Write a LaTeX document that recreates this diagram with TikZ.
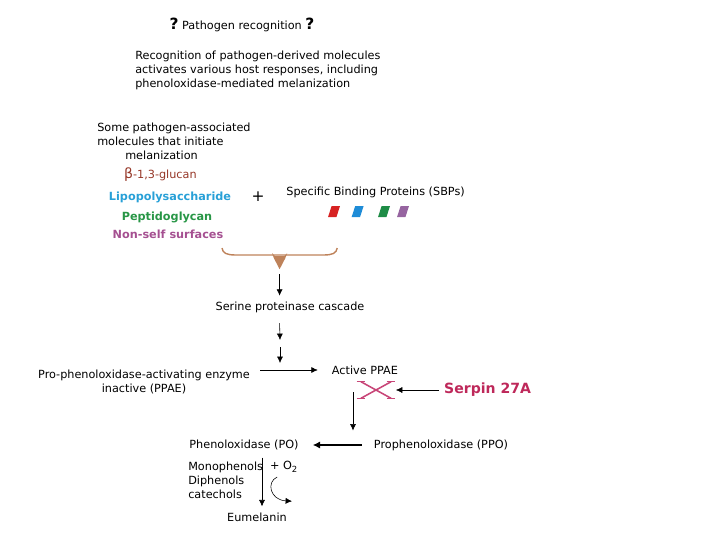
\documentclass[tikz,border=0pt]{standalone}
\usepackage{fontspec}
\setmainfont{DejaVu Sans}
\usepackage{tikz}
\usetikzlibrary{arrows.meta, positioning, calc}

\definecolor{glucancol}{RGB}{150,55,40}
\definecolor{lpscol}{RGB}{40,160,215}
\definecolor{pgcol}{RGB}{40,150,70}
\definecolor{nscol}{RGB}{165,80,145}
\definecolor{sbpred}{RGB}{215,35,35}
\definecolor{sbpblue}{RGB}{30,140,215}
\definecolor{sbpgreen}{RGB}{30,140,70}
\definecolor{sbppurple}{RGB}{150,100,160}
\definecolor{bracecol}{RGB}{190,130,90}
\definecolor{serpincol}{RGB}{190,40,90}
\definecolor{blockcol}{RGB}{200,70,120}

\begin{document}
\begin{tikzpicture}[
    txt/.style={
        inner sep=0pt, align=center,
        font=\fontsize{8}{9.9}\selectfont
    },
    molecule/.style={
        txt, font=\fontsize{8}{9.9}\selectfont\bfseries
    },
    blockmark/.style={
        minimum width=7.4mm, minimum height=4mm, inner sep=0pt
    },
    blockline/.style={blockcol, line width=1.1pt},
    arrow/.style={-{Latex[length=1.6mm, width=1.5mm]}, thin},
    thickarrow/.style={-{Latex[length=1.8mm, width=1.8mm]}, line width=0.9pt}
]
\useasboundingbox (0,0) rectangle (18,-13.5);

% --- Recognition (top) ---
\node[txt] (title) at (6.05, -0.625)
    {{\fontsize{11}{11}\selectfont\bfseries ?}~Pathogen recognition~{\fontsize{11}{11}\selectfont\bfseries ?}};
\node[txt, align=left, anchor=west] (intro) at (3.375, -1.75)
    {Recognition of pathogen-derived molecules\\
    activates various host responses, including\\
    phenoloxidase-mediated melanization};

% --- Pathogen-associated molecules ---
\node[txt, align=left, anchor=west] (assoc) at (2.425, -3.525)
    {Some pathogen-associated\\
    molecules that initiate\\
    \hspace*{7mm}melanization};
\node[txt, text=glucancol] (glucan) at (4.01, -4.375)
    {{\fontsize{10}{10}\selectfont β}-1,3-glucan};
\node[molecule, text=lpscol] (lps) at (4.25, -4.925) {Lipopolysaccharide};
\node[molecule, text=pgcol] (pg) at (4.175, -5.425) {Peptidoglycan};
\node[molecule, text=nscol] (nonself) at (4.2, -5.85) {Non-self surfaces};
\node[txt, font=\fontsize{11}{11}\selectfont] (plus) at (6.45, -4.925) {+};

% --- Specific binding proteins ---
\node[txt] (sbp) at (9.39, -4.8) {Specific Binding Proteins (SBPs)};
\foreach \x/\c in {8.35/sbpred, 8.94/sbpblue, 9.6/sbpgreen, 10.075/sbppurple}
    \fill[\c] (\x-0.15,-5.43) -- (\x+0.06,-5.43) -- (\x+0.15,-5.15) -- (\x-0.06,-5.15) -- cycle;

% --- Brace joining both ---
\coordinate (brace) at (6.99, -6.73);
\draw[bracecol, line width=1pt]
    (5.55,-6.2) .. controls (5.57,-6.33) and (5.66,-6.375) .. (5.9,-6.375)
    -- (8.08,-6.375) .. controls (8.32,-6.375) and (8.41,-6.33) .. (8.43,-6.2);
\fill[bracecol] (6.8,-6.33) -- (6.87,-6.4) -- (7.11,-6.4) -- (7.18,-6.33)
    -- (7.13,-6.46) -- (brace) -- (6.85,-6.46) -- cycle;

% --- Cascade ---
\node[txt] (serine) at (7.25, -7.675) {Serine proteinase cascade};
\coordinate (c1) at (7.0, -8.5);
\coordinate (c2) at (7.0, -8.675);
\coordinate (c3) at (7.0, -9.075);
\draw[arrow] ([yshift=-1.2mm]brace) -- ([yshift=1.4mm]serine.north -| brace);
\draw[arrow] ([yshift=-2.6mm]serine.south -| brace) -- (c1);
\draw[arrow] (c2) -- (c3);

% --- PPAE ---
\node[txt] (ppae) at (3.6, -9.55)
    {Pro-phenoloxidase-activating enzyme\\inactive (PPAE)};
\node[txt] (active) at (9.125, -9.25) {Active PPAE};
\draw[arrow] ([xshift=2.5mm]ppae.east |- active.west) -- ([xshift=-3.5mm]active.west);

% --- Serpin block ---
\node[blockmark] (block) at (9.4, -9.75) {};
\draw[blockline] (block.north west) -- (block.south east);
\draw[blockline] (block.south west) -- (block.north east);
\draw[blockline] ([xshift=-1.1mm]block.north west) -- ([xshift=1.1mm]block.north west);
\draw[blockline] ([xshift=-1.1mm]block.north east) -- ([xshift=1.1mm]block.north east);
\draw[blockline] ([xshift=-1.1mm]block.south west) -- ([xshift=1.1mm]block.south west);
\draw[blockline] ([xshift=-1.1mm]block.south east) -- ([xshift=1.1mm]block.south east);
\node[txt, text=serpincol, font=\fontsize{10}{12}\selectfont\bfseries] (serpin) at (12.19, -9.75) {Serpin 27A};
\draw[arrow] ([xshift=-1.2mm]serpin.west) -- ([xshift=1.2mm]block.east);

% --- Phenoloxidase ---
\node[txt] (po) at (6.1, -11.125) {Phenoloxidase (PO)};
\node[txt] (ppo) at (11.025, -11.125) {Prophenoloxidase (PPO)};
\coordinate (v1) at (8.825, -9.8);
\draw[arrow] (v1) -- ([yshift=2.2mm]v1 |- ppo.north);
\draw[thickarrow] ([xshift=-3mm]ppo.west) -- ([xshift=3.5mm]po.east);

% --- Melanization ---
\node[txt, align=left, anchor=west] (phenols) at (4.7, -12.0)
    {Monophenols\\Diphenols\\catechols};
\node[txt] (o2) at (7.1, -11.675) {+ O\textsubscript{2}};
\node[txt] (eum) at (6.425, -12.925) {Eumelanin};
\draw[arrow] ([xshift=4.5mm, yshift=-1.8mm]po.south) -- ([xshift=4.5mm, yshift=1.5mm]eum.north -| po);
\coordinate (o2in) at (6.93, -11.925);
\coordinate (o2out) at (7.3, -12.53);
\draw[arrow] (o2in) .. controls (6.65,-12.05) and (6.75,-12.5) .. (o2out);

\end{tikzpicture}
\end{document}
